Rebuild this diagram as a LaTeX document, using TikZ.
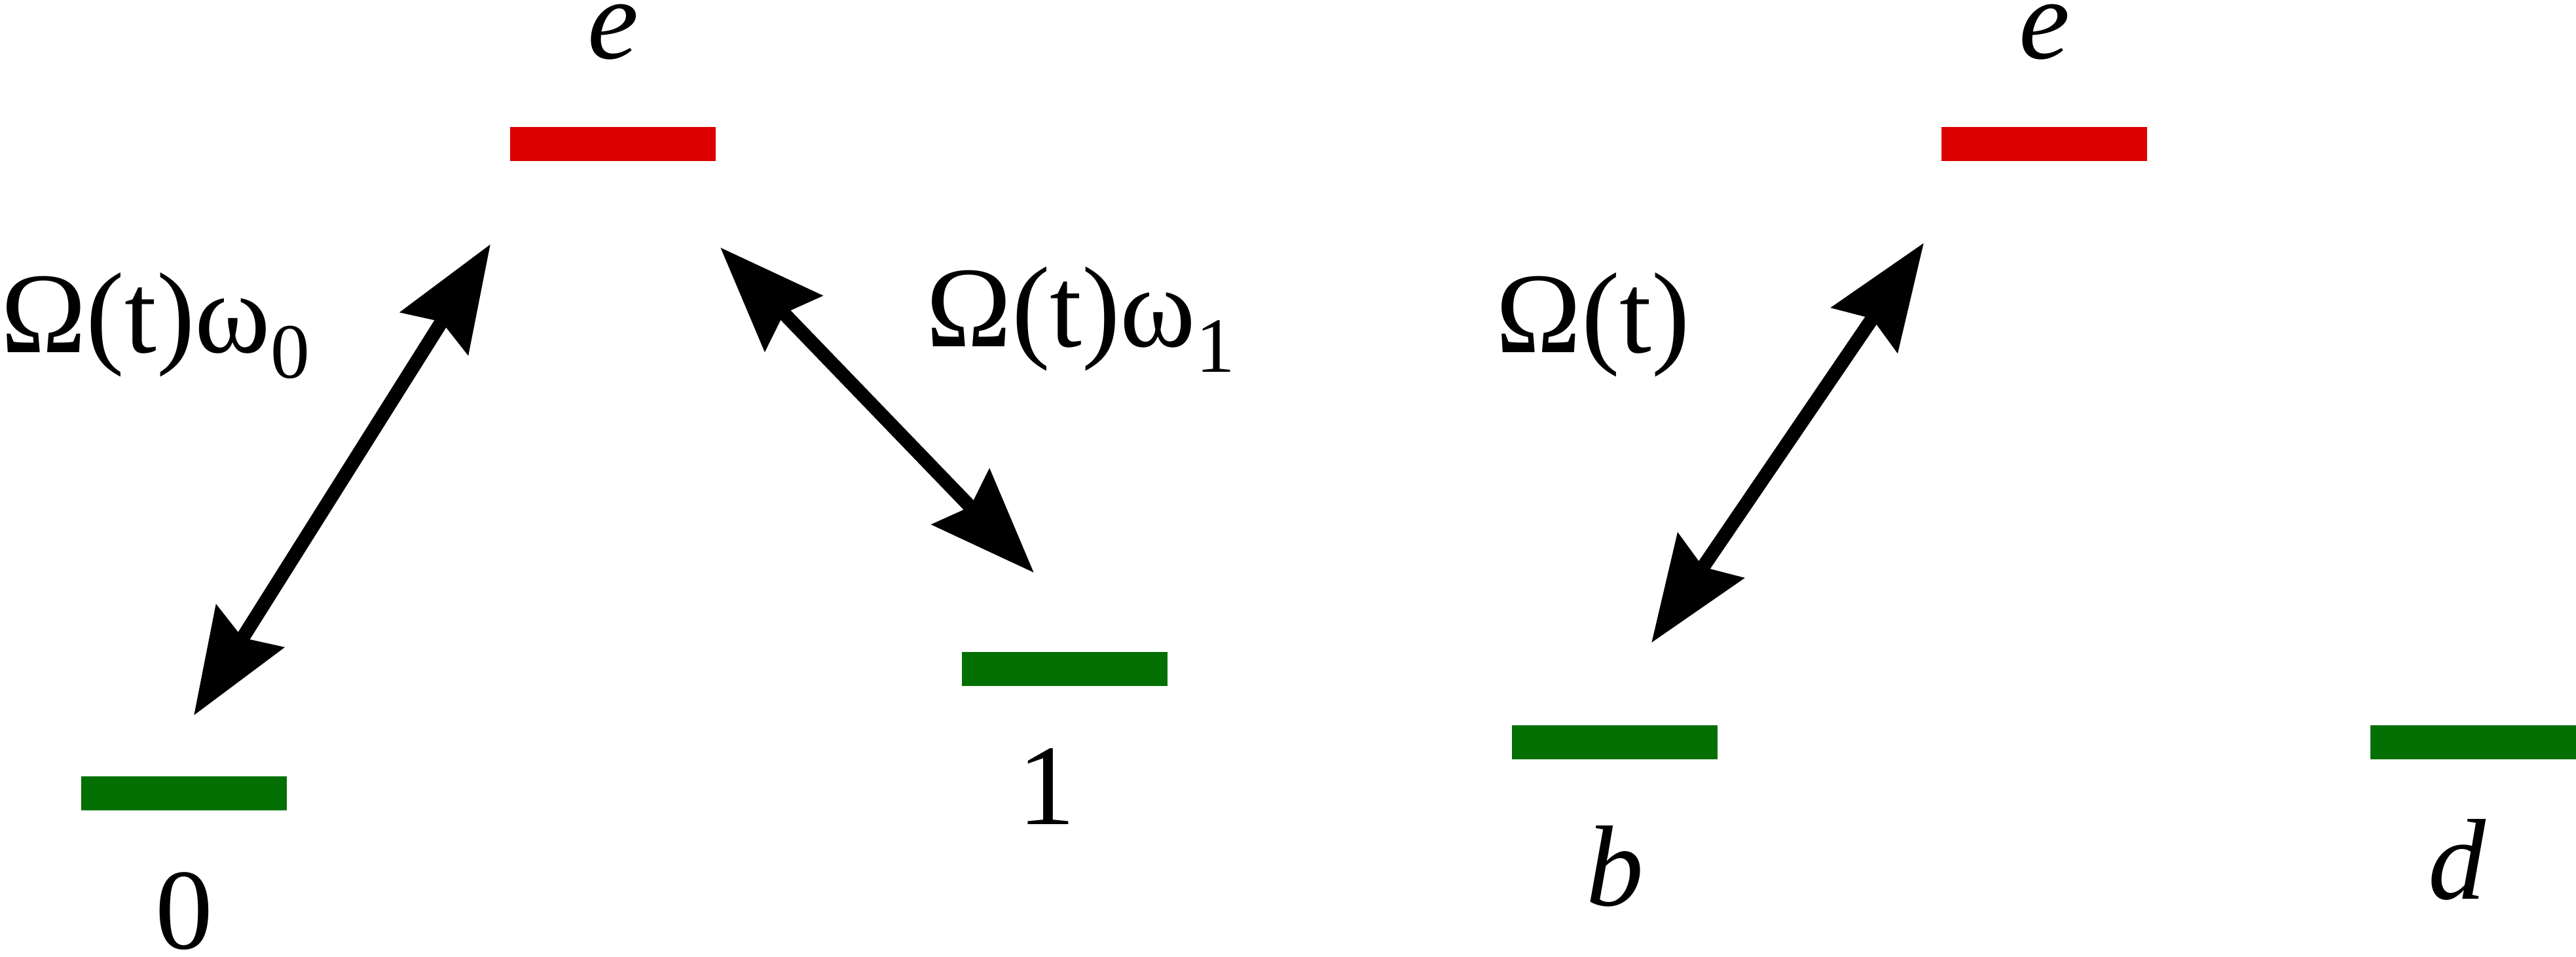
\documentclass[tikz,border=0pt]{standalone}
\usepackage{fontspec}
\setmainfont{Liberation Serif}
\usepackage{xcolor}
\usepackage{tikz}
\usetikzlibrary{arrows.meta,positioning}

\definecolor{levelred}{RGB}{221,0,0}
\definecolor{levelgreen}{RGB}{4,112,4}
\newcommand{\lowsub}[1]{\raisebox{-0.22em}{\fontsize{17}{17}\selectfont #1}}

\begin{document}
\begin{tikzpicture}
      \tikzstyle{excited}=[fill=levelred,minimum width=15.7mm,minimum height=2.6mm,inner sep=0]
      \tikzstyle{ground}=[excited,fill=levelgreen]
      \tikzstyle{level_text}=[inner sep=0,font=\fontsize{25}{30}\selectfont]
      \tikzstyle{coupling}=[level_text,anchor=base west]
      \tikzstyle{transition}=[line width=3pt,<->,>={Stealth[length=8mm,width=6mm,inset=1mm]}]

      \useasboundingbox (0,0) rectangle (19.67,-7.31);

      % three level system
      \begin{scope}
        \node [excited] (e1) at (4.68,-1.10) {};
        \node [ground] (g0) at (1.405,-6.06) {};
        \node [ground] (g1) at (8.13,-5.11) {};

        \node [level_text, above=5.0mm of e1] (te1) {\textit{e}};
        \node [level_text, below=4.6mm of g0] (tg0) {0};
        \node [level_text, below=4.65mm of g1, xshift=-1.4mm] (tg1) {1};

        \coordinate (a0) at (1.48,-5.465);
        \coordinate (a1) at (3.745,-1.865);
        \coordinate (b0) at (5.50,-1.89);
        \coordinate (b1) at (7.895,-4.375);
        \draw [transition] (a0) -- (a1);
        \draw [transition] (b0) -- (b1);

        \node [coupling] (rabi0) at (0,-2.695) {Ω(t)ω\lowsub{0}};
        \node [coupling] (rabi1) at (7.065,-2.65) {Ω(t)ω\lowsub{1}};
      \end{scope}

      % bright and dark states
      \begin{scope}
        \node [excited] (e2) at (15.61,-1.10) {};
        \node [ground] (gb) at (12.33,-5.67) {};
        \node [ground] (gd) at (18.885,-5.67) {};

        \node [level_text, above=5.0mm of e2] (te2) {\textit{e}};
        \node [level_text, below=4.95mm of gb] (tgb) {\textit{b}};
        \node [level_text, below=4.45mm of gd, xshift=-1.2mm] (tgd) {\textit{d}};

        \coordinate (c0) at (12.61,-4.91);
        \coordinate (c1) at (14.69,-1.855);
        \draw [transition] (c0) -- (c1);

        \node [coupling] (rabi) at (11.415,-2.695) {Ω(t)};
      \end{scope}
\end{tikzpicture}
\end{document}
